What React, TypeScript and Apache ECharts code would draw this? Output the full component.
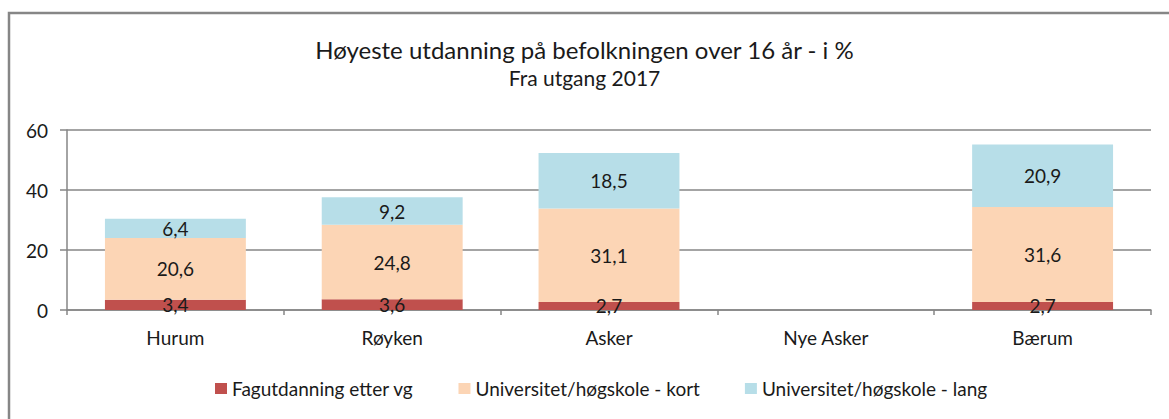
import React, { useEffect, useRef } from "react";
import * as echarts from "echarts";

const categories = ["Hurum", "Røyken", "Asker", "Nye Asker", "Bærum"];
const fagutdanning = [3.4, 3.6, 2.7, null, 2.7];
const kort = [20.6, 24.8, 31.1, null, 31.6];
const lang = [6.4, 9.2, 18.5, null, 20.9];
const seriesNames = [
  "Fagutdanning etter vg",
  "Universitet/høgskole - kort",
  "Universitet/høgskole - lang",
];
const yTicks = { min: 0, max: 60, interval: 20 };

const FONT = "Lato, 'Open Sans', sans-serif";
const GRAY = "#868686";
const TEXT = "#1a1a1a";

export default function App() {
  const ref = useRef<HTMLDivElement>(null);
  useEffect(() => {
    if (!ref.current) return;
    const chart = echarts.init(ref.current, undefined, { renderer: "svg" });
    const label = {
      show: true,
      position: "inside",
      color: TEXT,
      fontSize: 19,
      fontFamily: FONT,
      formatter: (p: any) =>
        p.value == null ? "" : String(p.value).replace(".", ","),
    };
    const colors = ["#C0504D", "#FCD5B5", "#B7DEE8"];
    const data = [fagutdanning, kort, lang];
    chart.setOption({
      animation: false,
      textStyle: { fontFamily: FONT },
      title: {
        text: "Høyeste utdanning på befolkningen over 16 år - i %",
        subtext: "Fra utgang 2017",
        left: "center",
        top: 32,
        itemGap: 6,
        textStyle: { fontSize: 24, fontWeight: "normal", color: TEXT, fontFamily: FONT },
        subtextStyle: { fontSize: 21, color: TEXT, fontFamily: FONT },
      },
      graphic: [
        {
          type: "rect",
          shape: { x: 9, y: 13, width: 1300, height: 600 },
          style: { fill: "none", stroke: GRAY, lineWidth: 2.5 },
          silent: true,
        },
      ],
      legend: {
        top: 374,
        left: 210,
        itemWidth: 12,
        itemHeight: 11,
        itemGap: 45,
        icon: "rect",
        textStyle: { fontSize: 19, color: TEXT, fontFamily: FONT },
        data: seriesNames,
      },
      grid: { left: 67, right: 18, top: 130, bottom: 109 },
      xAxis: {
        type: "category",
        data: categories,
        axisLine: { show: true, lineStyle: { color: GRAY, width: 1.5 } },
        axisTick: { show: true, length: 5, lineStyle: { color: GRAY, width: 1.5 } },
        axisLabel: { fontSize: 19, color: TEXT, margin: 18, fontFamily: FONT },
      },
      yAxis: {
        type: "value",
        min: yTicks.min,
        max: yTicks.max,
        interval: yTicks.interval,
        axisLine: { show: true, lineStyle: { color: GRAY, width: 1.5 } },
        axisTick: { show: true, length: 7, lineStyle: { color: GRAY, width: 1.5 } },
        splitLine: { show: true, lineStyle: { color: GRAY, width: 1.5 } },
        axisLabel: { fontSize: 19, color: TEXT, margin: 19, fontFamily: FONT },
      },
      series: seriesNames.map((name, i) => ({
        name,
        type: "bar",
        stack: "total",
        barCategoryGap: "35%",
        itemStyle: { color: colors[i] },
        label,
        data: data[i],
      })),
    });
    return () => chart.dispose();
  }, []);
  return (
    <div
      ref={ref}
      style={{ position: "absolute", left: 0, top: 0, width: 1169, height: 419, background: "#fff" }}
    />
  );
}
